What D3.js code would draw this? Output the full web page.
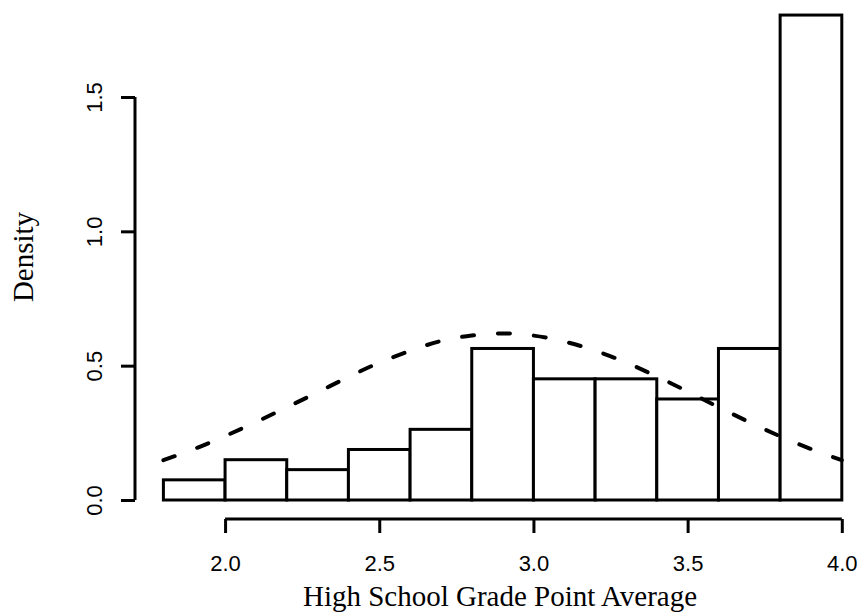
<!DOCTYPE html>
<html>
<head>
<meta charset="utf-8">
<script src="https://cdn.jsdelivr.net/npm/d3@7"></script>
<style>
  body { margin: 0; background: #fff; }
</style>
</head>
<body>
<script>
// histogram bins (GPA) and their densities
const binEdges = [1.8, 2.0, 2.2, 2.4, 2.6, 2.8, 3.0, 3.2, 3.4, 3.6, 3.8, 4.0];
const densities = [0.075, 0.150, 0.113, 0.188, 0.263, 0.564, 0.451, 0.451, 0.376, 0.564, 1.805];

// dashed density curve
const curveX = [1.8, 1.9, 2.0, 2.1, 2.2, 2.3, 2.4, 2.5, 2.6, 2.7, 2.8, 2.9,
                3.0, 3.1, 3.2, 3.3, 3.4, 3.5, 3.6, 3.7, 3.8, 3.9, 4.0];
const curveY = [0.148, 0.190, 0.238, 0.290, 0.345, 0.401, 0.458, 0.511, 0.555, 0.592, 0.612, 0.620,
                0.612, 0.590, 0.556, 0.512, 0.460, 0.404, 0.346, 0.290, 0.237, 0.190, 0.148];

const xTicks = [2.0, 2.5, 3.0, 3.5, 4.0];
const yTicks = [0.0, 0.5, 1.0, 1.5];

const width = 860, height = 613;

const svg = d3.select("body").append("svg")
    .attr("width", width)
    .attr("height", height);

const x = d3.scaleLinear().domain([1.8, 4.0]).range([163.4, 841.8]);
const y = d3.scaleLinear().domain([0, 1.5]).range([500, 97]);

// bars
const bins = densities.map((d, i) => ({x0: binEdges[i], x1: binEdges[i + 1], d: d}));
svg.append("g").selectAll("rect")
    .data(bins)
    .join("rect")
    .attr("x", b => x(b.x0))
    .attr("y", b => y(b.d))
    .attr("width", b => x(b.x1) - x(b.x0))
    .attr("height", b => y(0) - y(b.d))
    .attr("fill", "#fff")
    .attr("stroke", "#000")
    .attr("stroke-width", 3);

// dashed curve
const line = d3.line()
    .x(d => x(d[0]))
    .y(d => y(d[1]))
    .curve(d3.curveNatural);

svg.append("path")
    .datum(curveX.map((v, i) => [v, curveY[i]]))
    .attr("d", line)
    .attr("fill", "none")
    .attr("stroke", "#000")
    .attr("stroke-width", 4)
    .attr("stroke-linecap", "round")
    .attr("stroke-dasharray", "12 24");

// x axis
const xAxis = svg.append("g")
    .attr("transform", "translate(0,519)")
    .call(d3.axisBottom(x).tickValues(xTicks).tickFormat(d3.format(".1f"))
        .tickSize(14).tickSizeOuter(0).tickPadding(22));
xAxis.select(".domain").remove();
xAxis.append("line")
    .attr("x1", x(xTicks[0]))
    .attr("x2", x(xTicks[xTicks.length - 1]))
    .attr("stroke", "#000")
    .attr("stroke-width", 3);
xAxis.selectAll(".tick line").attr("stroke-width", 3);
xAxis.selectAll("text")
    .attr("font-family", "'Liberation Sans', Arial, sans-serif")
    .attr("font-size", 22)
    .attr("fill", "#000");

// y axis
const yAxis = svg.append("g")
    .attr("transform", "translate(135,0)")
    .call(d3.axisLeft(y).tickValues(yTicks).tickFormat(d3.format(".1f"))
        .tickSize(14).tickSizeOuter(0));
yAxis.select(".domain").remove();
yAxis.append("line")
    .attr("y1", y(yTicks[0]))
    .attr("y2", y(yTicks[yTicks.length - 1]))
    .attr("stroke", "#000")
    .attr("stroke-width", 3);
yAxis.selectAll(".tick line").attr("stroke-width", 3);
yAxis.selectAll("text")
    .attr("transform", "rotate(-90)")
    .attr("x", 0)
    .attr("y", -33)
    .attr("dy", 0)
    .attr("text-anchor", "middle")
    .attr("font-family", "'Liberation Sans', Arial, sans-serif")
    .attr("font-size", 22)
    .attr("fill", "#000");

// axis titles
svg.append("text")
    .attr("x", 500)
    .attr("y", 606)
    .attr("text-anchor", "middle")
    .attr("font-family", "'Liberation Serif', 'Times New Roman', serif")
    .attr("font-size", 29)
    .text("High School Grade Point Average");

svg.append("text")
    .attr("transform", "translate(33,257) rotate(-90)")
    .attr("text-anchor", "middle")
    .attr("font-family", "'Liberation Serif', 'Times New Roman', serif")
    .attr("font-size", 29)
    .text("Density");
</script>
</body>
</html>
